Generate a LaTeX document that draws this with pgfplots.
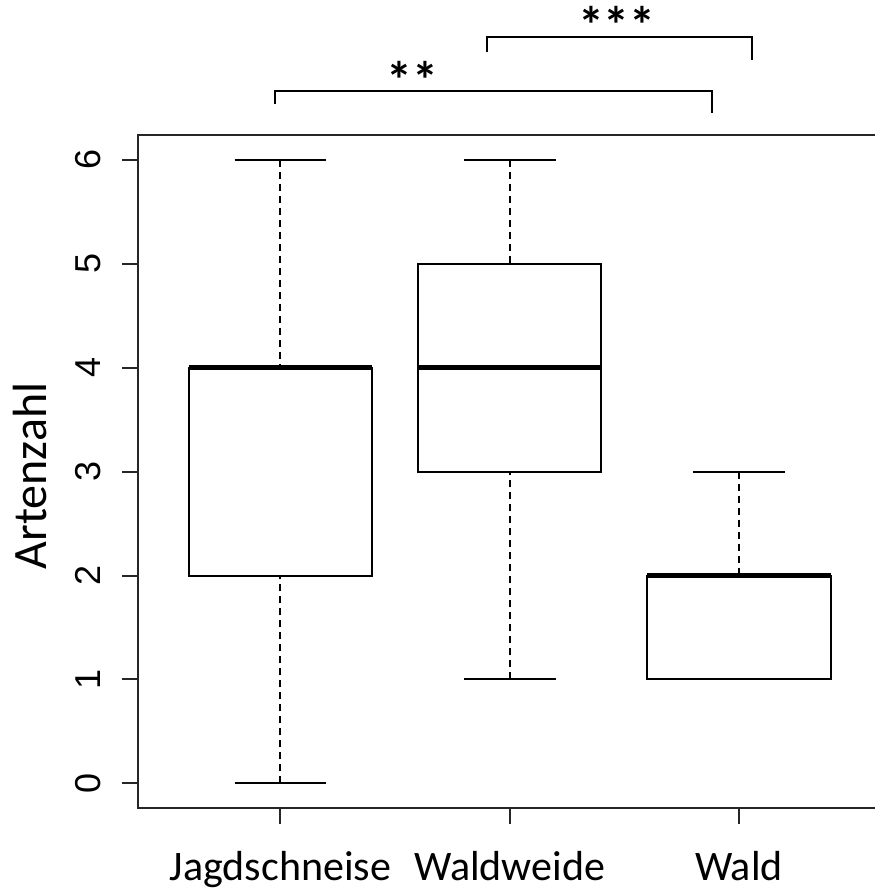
\documentclass[border=0pt]{standalone}
\usepackage{fontspec}
\setmainfont{Carlito}
\newfontfamily\arialfont{Liberation Sans}
\usepackage{pgfplots}
\pgfplotsset{compat=1.18}
\usepgfplotslibrary{statistics}
\begin{document}
\begin{tikzpicture}
\useasboundingbox (0,0) rectangle (437pt,446pt);
\begin{axis}[
  at={(69.15pt,41.85pt)}, anchor=south west,
  scale only axis, width=371.35pt, height=336.65pt,
  xmin=0.38, xmax=3.62, ymin=-0.24, ymax=6.24,
  clip=false,
  axis line style={line width=1pt, black!85},
  tick align=outside, major tick length=8pt,
  every tick/.style={line width=1pt, black!85},
  xtick={1,2,3}, xticklabels={Jagdschneise,Waldweide,Wald},
  xtick pos=bottom, ytick pos=left,
  ytick={0,1,2,3,4,5,6}, yticklabels={0,1,2,3,4,5,6},
  xticklabel style={font=\fontsize{21}{24}\selectfont, anchor=base, yshift=-27.85pt},
  yticklabel style={font=\arialfont\fontsize{18}{20}\selectfont, rotate=90, anchor=center, yshift=17.25pt},
  ylabel={Artenzahl},
  ylabel style={font=\fontsize{24}{28}\selectfont, at={(axis description cs:-0.1458,0.4935)}, anchor=center},
  boxplot/draw direction=y,
  boxplot/box extend=0.8,
  boxplot/whisker extend=0.4,
  boxplot/every median/.style={line width=2.4pt},
  boxplot/draw/lower whisker/.code={%
    \draw[line width=1pt, dash pattern=on 3.5pt off 2.5pt]
      (boxplot cs:\pgfplotsboxplotvalue{lower whisker})
      -- (boxplot cs:\pgfplotsboxplotvalue{lower quartile});
    \draw[line width=1pt] (boxplot whisker cs:\pgfplotsboxplotvalue{lower whisker},0)
      -- (boxplot whisker cs:\pgfplotsboxplotvalue{lower whisker},1);
  },
  boxplot/draw/upper whisker/.code={%
    \draw[line width=1pt, dash pattern=on 3.5pt off 2.5pt]
      (boxplot cs:\pgfplotsboxplotvalue{upper whisker})
      -- (boxplot cs:\pgfplotsboxplotvalue{upper quartile});
    \draw[line width=1pt] (boxplot whisker cs:\pgfplotsboxplotvalue{upper whisker},0)
      -- (boxplot whisker cs:\pgfplotsboxplotvalue{upper whisker},1);
  },
]
\addplot[black, line width=1pt, fill=white, boxplot prepared={
  lower whisker=0, lower quartile=2, median=4, upper quartile=4, upper whisker=6, draw position=1}]
  coordinates {};
\addplot[black, line width=1pt, fill=white, boxplot prepared={
  lower whisker=1, lower quartile=3, median=4, upper quartile=5, upper whisker=6, draw position=2}]
  coordinates {};
\addplot[black, line width=1pt, fill=white, boxplot prepared={
  lower whisker=1, lower quartile=1, median=2, upper quartile=2, upper whisker=3, draw position=3}]
  coordinates {};
% significance brackets
\draw[line width=1.1pt] (axis cs:0.976,6.538) -- (axis cs:0.976,6.663) -- (axis cs:2.883,6.663) -- (axis cs:2.883,6.452);
\draw[line width=1.1pt] (axis cs:1.901,7.039) -- (axis cs:1.901,7.183) -- (axis cs:3.057,7.183) -- (axis cs:3.057,6.962);
\node[font=\bfseries\fontsize{26}{28}\selectfont, anchor=center, yshift=-4pt] at (axis cs:1.574,6.846) {**};
\node[font=\bfseries\fontsize{26}{28}\selectfont, anchor=center, yshift=-4pt] at (axis cs:2.468,7.376) {***};
\end{axis}
\end{tikzpicture}
\end{document}
